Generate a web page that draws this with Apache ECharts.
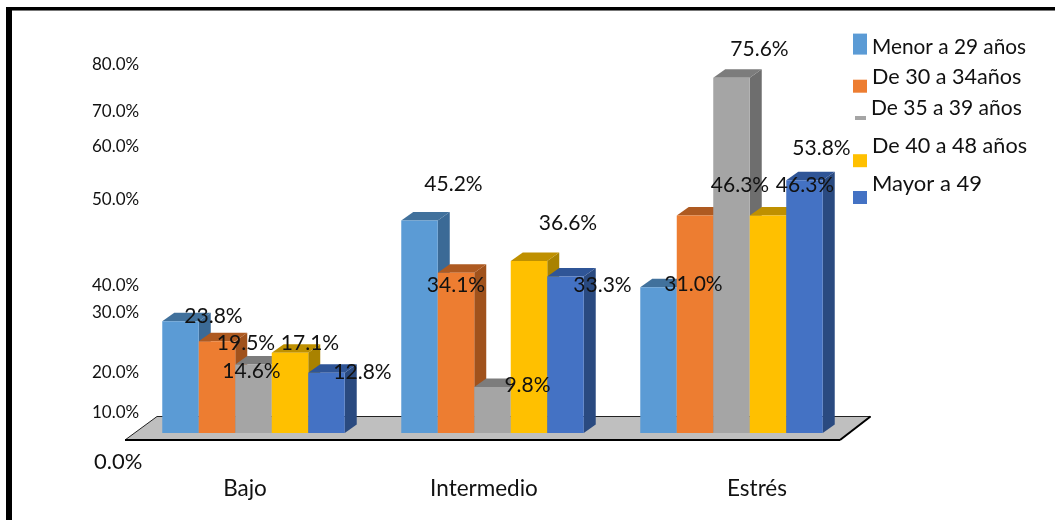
<!DOCTYPE html>
<html>
<head>
<meta charset="utf-8">
<style>html,body{margin:0;padding:0;background:#fff}#c{width:1055px;height:520px}</style>
<script src="https://cdn.jsdelivr.net/npm/echarts@6/dist/echarts.min.js"></script>
</head>
<body>
<div id="c"></div>
<script>
var categories = ['Bajo', 'Intermedio', 'Estrés'];
var seriesNames = ['Menor a 29 años', 'De 30 a 34años', 'De 35 a 39 años', 'De 40 a 48 años', 'Mayor a 49'];
var menor29 = [23.8, 45.2, 31.0];
var de30a34 = [19.5, 34.1, 46.3];
var de35a39 = [14.6, 9.8, 75.6];
var de40a48 = [17.1, 36.6, 46.3];
var mayor49 = [12.8, 33.3, 53.8];
var yTickLabels = ['0.0%', '10.0%', '20.0%', '30.0%', '40.0%', '50.0%', '60.0%', '70.0%', '80.0%'];

// layout: where the reference puts things (all in axis units or pixel offsets)
var yTickSlots = [-6.1, 4.3, 12.8, 25.6, 31.3, 49.6, 60.9, 68.3, 78.5];
var catLabelShift = [-9, -9, 25];
var labelOffsets = [
  [[33, -5], [34, -36], [35, -3]],
  [[29, 2], [0, 13], [45, -30]],
  [[-2, 7], [35, -2], [28, -28]],
  [[20, -9], [39, -38], [37, -30]],
  [[36, -1], [37, 9], [17, -32]]
];
// cy = swatch centre, dy = text centre relative to the swatch centre
var legendLayout = [
  {left: 853, cy: 47.5, w: 14, h: 21, dy: 3.5, fs: 20.8},
  {left: 853, cy: 86, w: 14, h: 13, dy: -9.5, fs: 21.6},
  {left: 855, cy: 118, w: 11, h: 4, dy: -10, fs: 21},
  {left: 853, cy: 160.5, w: 14, h: 13, dy: -14.5, fs: 21.6},
  {left: 853, cy: 197.5, w: 14, h: 13, dy: -13.5, fs: 22}
];
var palette = [
  {front: '#5b9bd5', top: '#41719c', side: '#3b6a96'},
  {front: '#ed7d31', top: '#ae5a21', side: '#a0521c'},
  {front: '#a5a5a5', top: '#7c7c7c', side: '#6e6e6e'},
  {front: '#ffc000', top: '#bf9000', side: '#a98200'},
  {front: '#4472c4', top: '#2f5597', side: '#2a4a80'}
];
var allValues = [menor29, de30a34, de35a39, de40a48, mayor49];
var FONT = 'Lato';
var DEPTH_X = 12, DEPTH_Y = 8.5, BAR_RATIO = 0.1527;

function barRenderer(s) {
  return function (params, api) {
    var c = api.value(0), v = api.value(1);
    var base = api.coord([c, 0]);
    var top = api.coord([c, v]);
    var w = api.size([1, 0])[0] * BAR_RATIO;
    var x = base[0] + (s - 2.5) * w - 0.5;
    var yT = top[1], yB = base[1];
    var off = labelOffsets[s][c];
    var p = palette[s];
    return {
      type: 'group',
      children: [
        {type: 'polygon', shape: {points: [[x + w, yT], [x + w + DEPTH_X, yT - DEPTH_Y], [x + w + DEPTH_X, yB - DEPTH_Y], [x + w, yB]]}, style: {fill: p.side}},
        {type: 'polygon', shape: {points: [[x, yT], [x + DEPTH_X, yT - DEPTH_Y], [x + w + DEPTH_X, yT - DEPTH_Y], [x + w, yT]]}, style: {fill: p.top}},
        {type: 'rect', shape: {x: x, y: yT, width: w, height: yB - yT}, style: {fill: p.front}},
        {type: 'text', z2: 100, x: x + w / 2 + off[0], y: yT + off[1],
          style: {text: v.toFixed(1) + '%', fill: '#111', font: '21px ' + FONT, align: 'center', verticalAlign: 'middle'}}
      ]
    };
  };
}

function floorRenderer(params, api) {
  var cs = params.coordSys;
  var y0 = api.coord([0, 0])[1];
  var l = cs.x - 9.5, r = cs.x + cs.width - 11.5;
  var yF = y0 + 7, yK = y0 - 16.5;
  return {
    type: 'group',
    children: [
      {type: 'polygon', shape: {points: [[l, yF], [l + 32, yK], [r + 30.5, yK], [r, yF]]}, style: {fill: '#bfbfbf', stroke: '#222', lineWidth: 1}},
      {type: 'line', shape: {x1: l, y1: yF, x2: r, y2: yF}, style: {stroke: '#000', lineWidth: 2}},
      {type: 'line', shape: {x1: r, y1: yF, x2: r + 30.5, y2: yK}, style: {stroke: '#000', lineWidth: 2}}
    ]
  };
}

var series = [{
  type: 'custom', name: 'floor', silent: true, z: 1, renderItem: floorRenderer, data: [[0, 0]],
  encode: {x: 0, y: 1}, clip: false
}];
allValues.forEach(function (vals, s) {
  series.push({
    type: 'custom', name: seriesNames[s], z: 2, clip: false,
    itemStyle: {color: palette[s].front},
    renderItem: barRenderer(s),
    encode: {x: 0, y: 1},
    data: vals.map(function (v, i) { return [i, v]; })
  });
});

var legends = seriesNames.map(function (n, i) {
  var L = legendLayout[i];
  var d = Math.abs(L.dy);
  var halfBox = Math.max(L.fs / 2 + d, L.h / 2);
  return {
    data: [n], left: L.left, top: L.cy - halfBox, padding: 0, orient: 'vertical', icon: 'rect',
    itemWidth: L.w, itemHeight: L.h, selectedMode: false,
    formatter: function (name) { return '{t|' + name + '}'; },
    textStyle: {
      rich: {t: {
        fontFamily: FONT, fontSize: L.fs, color: '#111',
        padding: L.dy < 0 ? [0, 0, 2 * d, 0] : [2 * d, 0, 0, 0]
      }}
    }
  };
});

var richLabels = {};
catLabelShift.forEach(function (d, i) {
  richLabels['c' + i] = {
    fontFamily: FONT, fontSize: 22.5, color: '#111',
    padding: d < 0 ? [0, -2 * d, 0, 0] : [0, 0, 0, 2 * d]
  };
});

var chart = echarts.init(document.getElementById('c'), null, {renderer: 'canvas'});
chart.setOption({
  animation: false,
  backgroundColor: '#fff',
  grid: {left: 134.5, width: 717, top: 57, height: 413, containLabel: false},
  legend: legends,
  xAxis: {
    type: 'category', data: categories,
    axisLine: {show: false, onZero: false}, axisTick: {show: false},
    axisLabel: {
      margin: 7, interval: 0,
      formatter: function (v, i) { return '{c' + i + '|' + v + '}'; },
      rich: richLabels
    }
  },
  yAxis: {
    type: 'value', min: -7.872, max: 80,
    axisLine: {show: false}, axisTick: {show: false}, splitLine: {show: false},
    axisLabel: {
      customValues: yTickSlots, align: 'left', margin: 42.5, color: '#111',
      fontFamily: FONT, fontSize: 17,
      formatter: function (v) {
        var t = yTickLabels[yTickSlots.indexOf(v)];
        return t === '0.0%' ? '{z|' + t + '}' : t;
      },
      rich: {z: {fontFamily: FONT, fontSize: 22, color: '#111', padding: [0, 0, 0, 2]}}
    }
  },
  series: series,
  graphic: [
    {type: 'rect', left: 6, top: 7, shape: {width: 1049, height: 3}, style: {fill: '#000'}, silent: true},
    {type: 'rect', left: 6, top: 10, shape: {width: 1049, height: 1}, style: {fill: '#777'}, silent: true},
    {type: 'rect', left: 6, top: 7, shape: {width: 6, height: 513}, style: {fill: '#000'}, silent: true}
  ]
});
</script>
</body>
</html>
